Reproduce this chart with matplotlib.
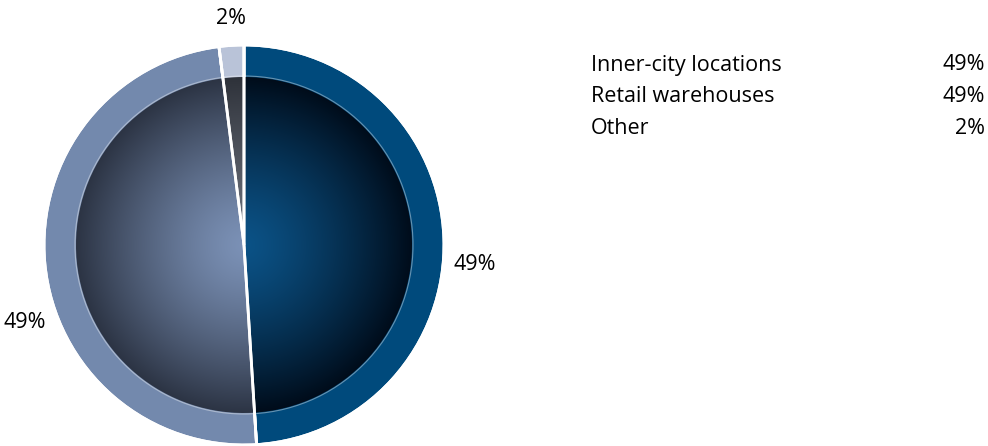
import numpy as np
import matplotlib
matplotlib.use("Agg")
import matplotlib.pyplot as plt
from matplotlib.patches import Wedge, Circle
from matplotlib import font_manager as fm

# data
labels = ["Inner-city locations", "Retail warehouses", "Other"]
shares = [49, 49, 2]
ring_colors = ["#004a7c", "#7389ad", "#b9c3d8"]
inner_center = ["#0b5286", "#7b91b6", "#6a6f7a"]
inner_edge = ["#000c1a", "#2c3444", "#2e323a"]

names = {f.name for f in fm.fontManager.ttflist}
font = "Liberation Sans Narrow" if "Liberation Sans Narrow" in names else "Open Sans"
plt.rcParams["font.family"] = [font, "DejaVu Sans"]

W, H = 988, 446
fig = plt.figure(figsize=(W / 100, H / 100), dpi=100)
ax = fig.add_axes([0, 0, 1, 1])

cx, cy = 244, H - 245
R, r_in = 200, 168

wedges, _ = ax.pie(shares, colors=ring_colors, startangle=90, counterclock=False,
                   center=(cx, cy), radius=R,
                   wedgeprops=dict(edgecolor="white", linewidth=2))

# radial gradient inside each wedge
n = 400
xs = np.linspace(cx - r_in, cx + r_in, n)
ys = np.linspace(cy - r_in, cy + r_in, n)
X, Y = np.meshgrid(xs, ys)
d = np.clip(np.hypot(X - cx, Y - cy) / r_in, 0, 1)[..., None]

for w, c0, c1 in zip(wedges, inner_center, inner_edge):
    a = np.array(matplotlib.colors.to_rgb(c0))
    b = np.array(matplotlib.colors.to_rgb(c1))
    img = a * (1 - d ** 1.3) + b * d ** 1.3
    im = ax.imshow(img, extent=[cx - r_in, cx + r_in, cy - r_in, cy + r_in],
                   origin="lower", zorder=2, interpolation="bilinear")
    clip = Wedge((cx, cy), r_in, w.theta1, w.theta2, transform=ax.transData)
    im.set_clip_path(clip)
    ax.add_patch(Wedge((cx, cy), R, w.theta1, w.theta2, fill=False,
                       edgecolor="white", linewidth=2, zorder=3))

ax.add_patch(Circle((cx, cy), r_in + 1, fill=False, edgecolor="white",
                    linewidth=0.8, alpha=0.4, zorder=3))

# slice labels
fs = 15.5
ax.text(453, H - 265, "49%", fontsize=fs, ha="left", va="center")
ax.text(46, H - 322, "49%", fontsize=fs, ha="right", va="center")
ax.text(231, H - 19, "2%", fontsize=fs, ha="center", va="center")

# legend table
for i, (lab, v) in enumerate(zip(labels, shares)):
    y = H - (65 + 32 * i)
    ax.text(591, y, lab, fontsize=fs, ha="left", va="center")
    ax.text(985, y, f"{v}%", fontsize=fs, ha="right", va="center")

ax.set_xlim(0, W)
ax.set_ylim(0, H)
ax.set_aspect("equal")
ax.axis("off")
fig.savefig("out.png", dpi=100)
